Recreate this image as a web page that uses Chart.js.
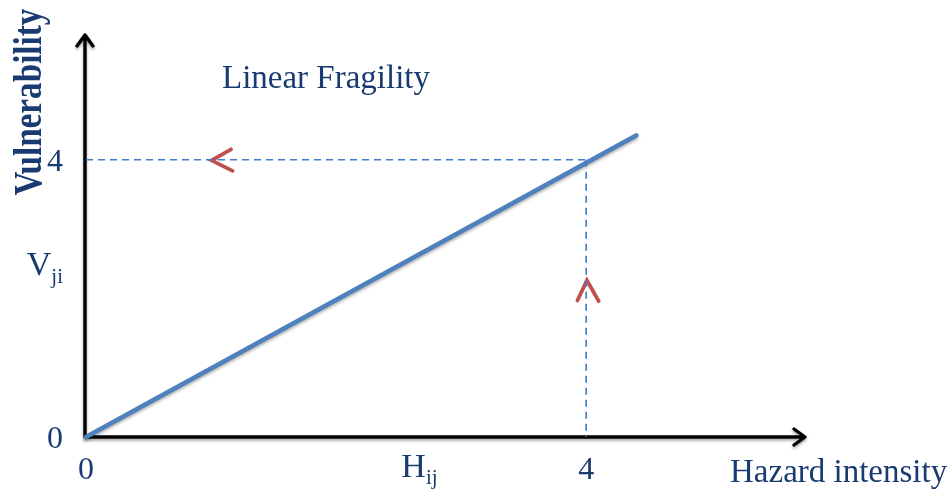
<!DOCTYPE html>
<html><head><meta charset="utf-8">
<script src="https://cdn.jsdelivr.net/npm/chart.js@4"></script>
<style>html,body{margin:0;padding:0;background:#fff;overflow:hidden}</style>
</head><body>
<canvas id="c" width="952" height="493"></canvas>
<script>
// ---- data ----
const hazard = [0, 4.4];
const vulnerability = [0, 4.35];
const guideLevel = 4;          // value read at both axes
const guideHX = [0, 4];
const guideVY = [4, 0];
const xTickValues = [0, 2.62, 4];
const xTickLabels = [['0', ''], ['H', 'ij'], ['4', '']];
const yTickValues = [0, 2.5, 4];
const yTickLabels = [['0', ''], ['V', 'ji'], ['4', '']];
const leftArrowX = [1.16, 1.005, 1.172];
const leftArrowY = [4.15, 3.99, 3.84];
const upArrowX = [3.93, 4.006, 4.1];
const upArrowY = [1.97, 2.26, 1.96];
const titleText = 'Linear Fragility';
const xAxisTitle = 'Hazard intensity';
const yAxisTitle = 'Vulnerability';

const NAVY = '#1A3A72';
const SERIF = '"Liberation Serif", "Times New Roman", serif';

function pts(xs, ys) { return xs.map((x, i) => ({ x: x, y: ys[i] })); }

const axesPlugin = {
  id: 'axesPlugin',
  beforeDatasetsDraw(chart) {
    const ctx = chart.ctx, a = chart.chartArea;
    ctx.save();
    ctx.strokeStyle = '#000';
    ctx.lineWidth = 3.4;
    ctx.lineCap = 'round';
    ctx.lineJoin = 'round';
    ctx.shadowColor = 'rgba(0,0,0,0.35)';
    ctx.shadowBlur = 3;
    ctx.shadowOffsetY = 2;
    const ox = a.left - 1, oy = a.bottom;
    ctx.beginPath();
    ctx.moveTo(ox, oy); ctx.lineTo(ox, a.top);
    ctx.moveTo(ox - 8, a.top + 11); ctx.lineTo(ox, a.top); ctx.lineTo(ox + 8, a.top + 11);
    ctx.moveTo(ox, oy); ctx.lineTo(a.right, oy);
    ctx.moveTo(a.right - 11, oy - 8); ctx.lineTo(a.right, oy); ctx.lineTo(a.right - 11, oy + 8);
    ctx.stroke();
    ctx.restore();
  },
  afterDraw(chart) {
    const ctx = chart.ctx;
    const xs = chart.scales.x, ys = chart.scales.y;
    ctx.save();
    ctx.fillStyle = NAVY;
    ctx.textBaseline = 'alphabetic';
    // x tick labels
    xTickValues.forEach((v, i) => {
      const [m, s] = xTickLabels[i];
      const px = xs.getPixelForValue(v);
      ctx.font = (s ? '34px ' : '32px ') + SERIF;
      const wm = ctx.measureText(m).width;
      ctx.textAlign = 'left';
      ctx.fillText(m, px - wm / 2, s ? 477 : 479);
      if (s) {
        ctx.font = '21px ' + SERIF;
        ctx.fillText(s, px + wm / 2, 484);
      }
    });
    // y tick labels
    yTickValues.forEach((v, i) => {
      const [m, s] = yTickLabels[i];
      const py = ys.getPixelForValue(v);
      ctx.font = (s ? '34px ' : '32px ') + SERIF;
      const wm = ctx.measureText(m).width;
      ctx.font = '21px ' + SERIF;
      const wsub = s ? ctx.measureText(s).width : 0;
      const right = 63;
      ctx.textAlign = 'left';
      ctx.font = (s ? '34px ' : '32px ') + SERIF;
      ctx.fillText(m, right - wm - wsub, py + 11);
      if (s) {
        ctx.font = '21px ' + SERIF;
        ctx.fillText(s, right - wsub, py + 19);
      }
    });
    // titles
    ctx.font = '33px ' + SERIF;
    ctx.textAlign = 'left';
    ctx.fillText(titleText, 222, 88);
    ctx.fillText(xAxisTitle, 730, 482);
    ctx.save();
    ctx.translate(41, 102);
    ctx.rotate(-Math.PI / 2);
    ctx.scale(0.83, 1);
    ctx.font = 'bold 40px ' + SERIF;
    ctx.textAlign = 'center';
    ctx.fillText(yAxisTitle, 0, 0);
    ctx.restore();
    ctx.restore();
  }
};

const shadowPlugin = {
  id: 'shadowPlugin',
  beforeDatasetDraw(chart, args) {
    if (args.index === 2) {
      const ctx = chart.ctx;
      ctx.save();
      ctx.shadowColor = 'rgba(0,0,0,0.3)';
      ctx.shadowBlur = 3;
      ctx.shadowOffsetY = 2;
    }
  },
  afterDatasetDraw(chart, args) {
    if (args.index === 2) chart.ctx.restore();
  }
};

new Chart(document.getElementById('c'), {
  type: 'scatter',
  data: {
    datasets: [
      { data: pts(guideHX, [guideLevel, guideLevel]), showLine: true, borderColor: '#3F7BC9', borderWidth: 1.6, borderDash: [7, 5], pointRadius: 0, clip: false },
      { data: pts([guideLevel, guideLevel], guideVY), showLine: true, borderColor: '#3F7BC9', borderWidth: 1.6, borderDash: [7, 5], pointRadius: 0, clip: false },
      { data: pts(hazard, vulnerability), showLine: true, borderColor: '#4F81BD', borderWidth: 4.8, borderCapStyle: 'round', pointRadius: 0, clip: false },
      { data: pts(leftArrowX, leftArrowY), showLine: true, borderColor: '#C0504D', borderWidth: 3.8, borderCapStyle: 'round', pointRadius: 0, clip: false },
      { data: pts(upArrowX, upArrowY), showLine: true, borderColor: '#C0504D', borderWidth: 3.8, borderCapStyle: 'round', pointRadius: 0, clip: false }
    ]
  },
  options: {
    responsive: false,
    animation: false,
    events: [],
    layout: { padding: { left: 86, right: 147, top: 35, bottom: 56 } },
    scales: {
      x: { type: 'linear', min: 0, max: 5.75, display: false },
      y: { type: 'linear', min: 0, max: 5.8, display: false }
    },
    plugins: { legend: { display: false }, tooltip: { enabled: false }, title: { display: false } }
  },
  plugins: [axesPlugin, shadowPlugin]
});
</script>
</body></html>
